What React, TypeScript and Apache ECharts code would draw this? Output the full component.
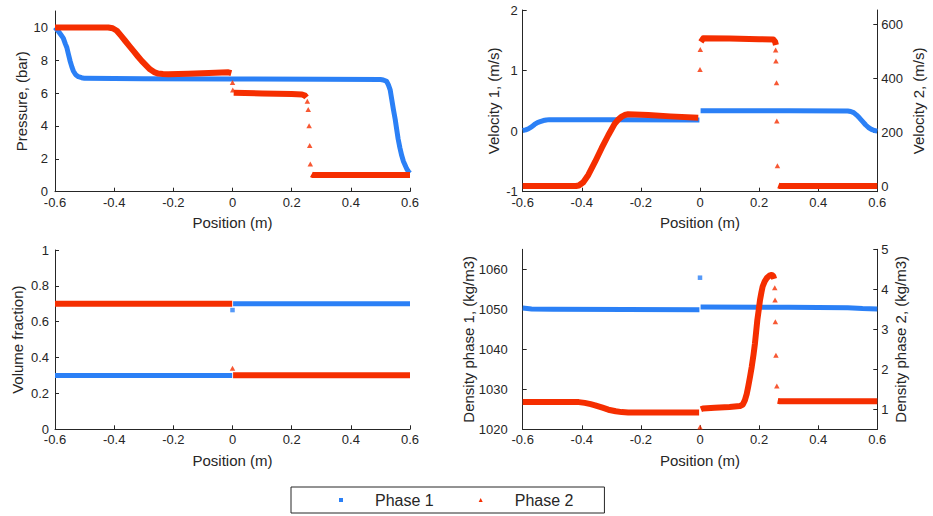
import React, { useEffect, useRef } from 'react';
import * as echarts from 'echarts';

// ---------- data (x in m) ----------
const pressure1 = [
  [-0.6, 10.0], [-0.59, 9.8], [-0.58, 9.55], [-0.572, 9.35], [-0.565, 9.0], [-0.56, 8.78], [-0.555, 8.4],
  [-0.549, 7.96], [-0.543, 7.6], [-0.538, 7.35], [-0.53, 7.12], [-0.521, 7.0], [-0.51, 6.94], [-0.5, 6.9],
  [-0.3, 6.88], [0, 6.86], [0.3, 6.85], [0.5, 6.83], [0.51, 6.8], [0.521, 6.72], [0.527, 6.5], [0.533, 6.2],
  [0.538, 5.65], [0.544, 5.0], [0.55, 4.4], [0.555, 3.8], [0.56, 3.2], [0.566, 2.66], [0.572, 2.2],
  [0.578, 1.84], [0.584, 1.6], [0.589, 1.39], [0.595, 1.22], [0.6, 1.13],
];
const pressure2Left = [
  [-0.6, 10.0], [-0.5, 10.0], [-0.42, 10.0], [-0.405, 9.95], [-0.391, 9.8], [-0.377, 9.5], [-0.363, 9.19],
  [-0.349, 8.88], [-0.335, 8.57], [-0.321, 8.26], [-0.307, 7.96], [-0.293, 7.7], [-0.279, 7.45],
  [-0.265, 7.28], [-0.251, 7.19], [-0.235, 7.16], [-0.217, 7.15], [-0.15, 7.18], [-0.08, 7.22],
  [-0.014, 7.27], [-0.004, 7.22],
];
const pressure2Mid = [[0.004, 6.02], [0.1, 5.98], [0.2, 5.94], [0.235, 5.92], [0.245, 5.85], [0.25, 5.74]];
const pressure2Right = [[0.267, 1.05], [0.27, 1.02], [0.6, 1.02]];
const pressure2Single = [[0, 6.64], [0.001, 6.19], [0.253, 5.51], [0.256, 5.0], [0.259, 4.02], [0.261, 2.82], [0.263, 1.68]];

const velocity1Left = [
  [-0.6, 0.01], [-0.59, 0.02], [-0.58, 0.04], [-0.57, 0.07], [-0.56, 0.11], [-0.55, 0.14], [-0.541, 0.156],
  [-0.53, 0.175], [-0.52, 0.185], [-0.51, 0.19], [-0.3, 0.19], [-0.002, 0.185],
];
const velocity1Right = [
  [0.002, 0.337], [0.3, 0.335], [0.5, 0.333], [0.51, 0.325], [0.52, 0.305], [0.53, 0.265], [0.54, 0.215],
  [0.55, 0.16], [0.56, 0.105], [0.57, 0.06], [0.58, 0.03], [0.59, 0.01], [0.6, 0.0],
];
const velocity2Left = [
  [-0.6, 0], [-0.42, 0], [-0.41, 2], [-0.395, 14], [-0.378, 41], [-0.355, 90], [-0.333, 140], [-0.31, 189],
  [-0.288, 232], [-0.275, 248], [-0.265, 257], [-0.255, 263], [-0.243, 266], [-0.22, 265], [-0.175, 263],
  [-0.1, 258], [-0.006, 253],
];
const velocity2Mid = [[0.003, 534], [0.011, 547], [0.1, 546], [0.2, 544], [0.248, 543], [0.254, 535], [0.257, 522]];
const velocity2Right = [[0.265, 2], [0.27, 0], [0.6, 0]];
const velocity2Single = [[0, 432], [0.001, 506], [0.256, 504], [0.257, 463], [0.259, 383], [0.26, 241], [0.262, 75]];

const fraction1Left = [[-0.6, 0.3], [-0.001, 0.3]];
const fraction1Right = [[0.002, 0.7], [0.6, 0.7]];
const fraction1Single = [[0, 0.665]];
const fraction2Left = [[-0.6, 0.7], [-0.001, 0.7]];
const fraction2Right = [[0.002, 0.302], [0.6, 0.302]];
const fraction2Single = [[0, 0.34]];

const density1Left = [[-0.6, 1050.3], [-0.57, 1050.1], [-0.5, 1050.0], [-0.002, 1049.9]];
const density1Right = [[0.002, 1050.6], [0.3, 1050.5], [0.5, 1050.4], [0.55, 1050.2], [0.6, 1050.1]];
const density1Single = [[0, 1057.9]];
const density2Left = [
  [-0.6, 1.18], [-0.41, 1.18], [-0.39, 1.16], [-0.37, 1.13], [-0.355, 1.1], [-0.33, 1.04], [-0.31, 0.99],
  [-0.285, 0.95], [-0.265, 0.93], [-0.243, 0.92], [-0.1, 0.92], [-0.003, 0.92],
];
const density2Mid = [
  [0.003, 1.0], [0.01, 1.02], [0.05, 1.04], [0.1, 1.06], [0.135, 1.08], [0.145, 1.12], [0.152, 1.23],
  [0.158, 1.38], [0.163, 1.56], [0.169, 1.8], [0.175, 2.06], [0.181, 2.36], [0.186, 2.65], [0.19, 2.94],
  [0.194, 3.23], [0.199, 3.5], [0.203, 3.73], [0.208, 3.93], [0.212, 4.07], [0.219, 4.2], [0.226, 4.28],
  [0.235, 4.34], [0.243, 4.36], [0.248, 4.33], [0.251, 4.26],
];
const density2Right = [[0.263, 1.21], [0.27, 1.2], [0.6, 1.2]];
const density2Single = [[0, 0.56], [0.253, 4.04], [0.254, 3.73], [0.255, 3.19], [0.257, 2.35], [0.26, 1.58]];

const xTicks = [-0.6, -0.4, -0.2, 0, 0.2, 0.4, 0.6];
const pressureTicks = [0, 2, 4, 6, 8, 10];
const velocity1Ticks = [-1, 0, 1, 2];
const velocity2Ticks = [0, 200, 400, 600];
const fractionTicks = [0, 0.2, 0.4, 0.6, 0.8, 1];
const density1Ticks = [1020, 1030, 1040, 1050, 1060];
const density2Ticks = [1, 2, 3, 4, 5];
const legendNames = ['Phase 1', 'Phase 2'];

// ---------- style ----------
const BLUE = '#2b80f6';
const RED = '#f52e00';
const AX = '#262626';
const FONT = "'Liberation Sans', Arial, Helvetica, sans-serif";

const fmt1 = (v: number) => {
  const r = Math.round(v * 10) / 10;
  return r === 0 ? '0' : String(r);
};
const plain = (v: number) => String(v);

function xAxis(gridIndex: number, nameGap: number) {
  return {
    type: 'value', gridIndex, min: -0.6, max: 0.6, interval: 0.2,
    name: 'Position (m)', nameLocation: 'middle', nameGap, nameMoveOverlap: false,
    nameTextStyle: { fontSize: 15, color: AX, fontFamily: FONT },
    axisLine: { show: true, onZero: false, lineStyle: { color: AX, width: 1 } },
    axisTick: { show: true, inside: true, length: 4, lineStyle: { color: AX }, customValues: xTicks },
    axisLabel: { color: AX, fontSize: 13, fontFamily: FONT, margin: 4, formatter: fmt1, customValues: xTicks },
    splitLine: { show: false },
  };
}

function yAxis(o: any) {
  return {
    type: 'value', gridIndex: o.grid, min: o.min, max: o.max, position: o.pos || 'left',
    name: o.name, nameLocation: 'middle', nameGap: o.gap, nameRotate: 90, nameMoveOverlap: false,
    nameTextStyle: { fontSize: 15, color: AX, fontFamily: FONT },
    axisLine: { show: true, onZero: false, lineStyle: { color: AX, width: 1 } },
    axisTick: { show: true, inside: true, length: 4, lineStyle: { color: AX }, customValues: o.ticks },
    axisLabel: { color: AX, fontSize: 13, fontFamily: FONT, margin: o.margin ?? 6, customValues: o.ticks, formatter: o.fmt || plain },
    splitLine: { show: false },
  };
}

function band(name: string, data: number[][], xi: number, yi: number) {
  const c = name === 'Phase 1' ? BLUE : RED;
  return {
    type: 'line', name, data, xAxisIndex: xi, yAxisIndex: yi, showSymbol: false, symbol: 'none',
    silent: true, z: name === 'Phase 1' ? 2 : 3,
    itemStyle: { color: c },
    lineStyle: { color: c, width: name === 'Phase 1' ? 5 : 6, join: 'round', cap: 'butt' },
  };
}
function dots(name: string, data: number[][], xi: number, yi: number) {
  const p1 = name === 'Phase 1';
  return {
    type: 'scatter', name, data, xAxisIndex: xi, yAxisIndex: yi, silent: true,
    symbol: p1 ? 'rect' : 'triangle', symbolSize: p1 ? 4.5 : [5.5, 5],
    itemStyle: { color: p1 ? BLUE : RED }, z: p1 ? 2 : 3,
  };
}

const option: any = {
  animation: false,
  backgroundColor: '#ffffff',
  textStyle: { fontFamily: FONT },
  grid: [
    { left: 55, top: 11, width: 355, height: 180.7 },
    { left: 522.7, top: 10, width: 354.6, height: 181.7 },
    { left: 55, top: 250, width: 355, height: 179.3 },
    { left: 522.7, top: 249.3, width: 354.6, height: 180 },
  ],
  xAxis: [xAxis(0, 23), xAxis(1, 23), xAxis(2, 24), xAxis(3, 24)],
  yAxis: [
    yAxis({ grid: 0, min: 0, max: 11, ticks: pressureTicks, name: 'Pressure, (bar)', gap: 26, margin: 7 }),
    yAxis({ grid: 1, min: -1, max: 2, ticks: velocity1Ticks, name: 'Velocity 1, (m/s)', gap: 22, margin: 5 }),
    yAxis({ grid: 1, min: -21, max: 652, ticks: velocity2Ticks, name: 'Velocity 2, (m/s)', gap: 34, pos: 'right', margin: 4 }),
    yAxis({ grid: 2, min: 0, max: 1, ticks: fractionTicks, name: 'Volume fraction)', gap: 30, margin: 6, fmt: fmt1 }),
    yAxis({ grid: 3, min: 1020, max: 1065, ticks: density1Ticks, name: 'Density phase 1, (kg/m3)', gap: 47, margin: 15 }),
    yAxis({ grid: 3, min: 0.5, max: 5, ticks: density2Ticks, name: 'Density phase 2, (kg/m3)', gap: 16, pos: 'right', margin: 4 }),
  ],
  legend: {
    data: [
      { name: legendNames[0], icon: 'rect' },
      { name: legendNames[1], icon: 'triangle' },
    ],
    left: 291, top: 487, orient: 'horizontal',
    itemWidth: 4, itemHeight: 4, itemGap: 45,
    padding: [5, 31, 5, 48],
    borderColor: AX, borderWidth: 1, backgroundColor: '#ffffff',
    selectedMode: false,
    textStyle: { fontSize: 16, color: AX, fontFamily: FONT, padding: [0, 0, 0, 27] },
  },
  series: [
    band('Phase 1', pressure1, 0, 0),
    band('Phase 2', pressure2Left, 0, 0),
    band('Phase 2', pressure2Mid, 0, 0),
    band('Phase 2', pressure2Right, 0, 0),
    dots('Phase 2', pressure2Single, 0, 0),

    band('Phase 1', velocity1Left, 1, 1),
    band('Phase 1', velocity1Right, 1, 1),
    band('Phase 2', velocity2Left, 1, 2),
    band('Phase 2', velocity2Mid, 1, 2),
    band('Phase 2', velocity2Right, 1, 2),
    dots('Phase 2', velocity2Single, 1, 2),

    band('Phase 1', fraction1Left, 2, 3),
    band('Phase 1', fraction1Right, 2, 3),
    dots('Phase 1', fraction1Single, 2, 3),
    band('Phase 2', fraction2Left, 2, 3),
    band('Phase 2', fraction2Right, 2, 3),
    dots('Phase 2', fraction2Single, 2, 3),

    band('Phase 1', density1Left, 3, 4),
    band('Phase 1', density1Right, 3, 4),
    dots('Phase 1', density1Single, 3, 4),
    band('Phase 2', density2Left, 3, 5),
    band('Phase 2', density2Mid, 3, 5),
    band('Phase 2', density2Right, 3, 5),
    dots('Phase 2', density2Single, 3, 5),
  ],
};

export default function App() {
  const ref = useRef<HTMLDivElement>(null);
  useEffect(() => {
    const chart = echarts.init(ref.current as HTMLDivElement, null, { renderer: 'svg' });
    chart.setOption(option);
    return () => chart.dispose();
  }, []);
  return (
    <div
      ref={ref}
      style={{ position: 'fixed', left: 0, top: 0, width: 933, height: 516, background: '#ffffff' }}
    />
  );
}
